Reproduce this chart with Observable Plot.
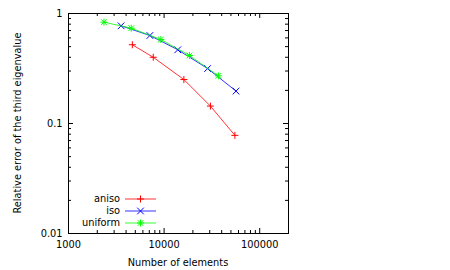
<!DOCTYPE html>
<html><head><meta charset="utf-8">
<script src="https://cdn.jsdelivr.net/npm/d3@7"></script>
<script src="https://cdn.jsdelivr.net/npm/@observablehq/plot@0.6"></script>
<style>body{margin:0;background:#fff;} svg{font-family:"DejaVu Sans",sans-serif;}</style>
</head><body><div id="chart"></div>
<script>
const seriesNames = ["aniso", "iso", "uniform"];
const seriesColors = ["#ff0000", "#0000ff", "#00ff00"];
const seriesSymbols = ["plus", "times", "asterisk"];
const anisoX = [4650, 7700, 16100, 30500, 55000];
const anisoY = [0.52, 0.40, 0.251, 0.144, 0.078];
const isoX = [3550, 7100, 13900, 28500, 56500];
const isoY = [0.773, 0.631, 0.468, 0.316, 0.197];
const uniformX = [2350, 4530, 9250, 18400, 37000];
const uniformY = [0.834, 0.735, 0.58, 0.415, 0.271];
const xMajor = [1000, 10000, 100000];
const yMajor = [0.01, 0.1, 1];
const xMinor = [2000,3000,4000,5000,6000,7000,8000,9000,20000,30000,40000,50000,60000,70000,80000,90000,200000];
const yMinor = [0.02,0.03,0.04,0.05,0.06,0.07,0.08,0.09,0.2,0.3,0.4,0.5,0.6,0.7,0.8,0.9];
const xLabel = "Number of elements";
const yLabel = "Relative error of the third eigenvalue";

const xs = [anisoX, isoX, uniformX];
const ys = [anisoY, isoY, uniformY];
const data = seriesNames.flatMap((s, i) => xs[i].map((x, j) => ({series: s, x, y: ys[i][j]})));

const W = 450, H = 270, mL = 68, mR = 162, mT = 13, mB = 37;
const fw = W - mL - mR, fh = H - mT - mB;
const maj = 5, mnr = 3;
const FS = 9.8;

// gnuplot-like stroke symbols
const hl = 3.5;
const symPlus = {draw(c) { c.moveTo(-hl, 0); c.lineTo(hl, 0); c.moveTo(0, -hl); c.lineTo(0, hl); }};
const symTimes = {draw(c) { const d = hl * 0.95; c.moveTo(-d, -d); c.lineTo(d, d); c.moveTo(-d, d); c.lineTo(d, -d); }};
const symAst = {draw(c) { const d = hl * 0.8; c.moveTo(-hl, 0); c.lineTo(hl, 0); c.moveTo(0, -hl); c.lineTo(0, hl);
  c.moveTo(-d, -d); c.lineTo(d, d); c.moveTo(-d, d); c.lineTo(d, -d); }};
const symMap = {plus: symPlus, times: symTimes, asterisk: symAst};

const marks = [
  Plot.frame({stroke: "#000", strokeWidth: 1}),
  Plot.tickX(xMajor, {x: d => d, insetTop: fh - maj, stroke: "#000"}),
  Plot.tickX(xMajor, {x: d => d, insetBottom: fh - maj, stroke: "#000"}),
  Plot.tickX(xMinor, {x: d => d, insetTop: fh - mnr, stroke: "#000"}),
  Plot.tickX(xMinor, {x: d => d, insetBottom: fh - mnr, stroke: "#000"}),
  Plot.tickY(yMajor, {y: d => d, insetRight: fw - maj, stroke: "#000"}),
  Plot.tickY(yMajor, {y: d => d, insetLeft: fw - maj, stroke: "#000"}),
  Plot.tickY(yMinor, {y: d => d, insetRight: fw - mnr, stroke: "#000"}),
  Plot.tickY(yMinor, {y: d => d, insetLeft: fw - mnr, stroke: "#000"}),
  Plot.axisX({ticks: xMajor, tickSize: 0, tickPadding: 8, tickFormat: d => String(d), fontSize: FS, label: null, fill: "#000"}),
  Plot.axisY({ticks: yMajor, tickSize: 0, tickPadding: 6, tickFormat: d => String(d), fontSize: FS, label: null, fill: "#000"}),
];
seriesNames.forEach((s, i) => {
  const d = data.filter(r => r.series === s);
  marks.push(Plot.line(d, {x: "x", y: "y", stroke: seriesColors[i], strokeWidth: 1, strokeOpacity: 0.8}));
  marks.push(Plot.dot(d, {x: "x", y: "y", stroke: seriesColors[i], symbol: symMap[seriesSymbols[i]], r: 4, strokeWidth: 1}));
});

const plot = Plot.plot({
  width: W, height: H,
  marginLeft: mL, marginRight: mR, marginTop: mT, marginBottom: mB,
  style: {fontFamily: "DejaVu Sans", fontSize: FS + "px", background: "#fff"},
  x: {type: "log", domain: [1000, 200000]},
  y: {type: "log", domain: [0.01, 1]},
  marks
});

const svg = d3.select(plot);
svg.append("text").attr("x", mL + fw / 2).attr("y", H - 4).attr("text-anchor", "middle")
  .attr("font-size", FS).attr("fill", "#000").text(xLabel);
svg.append("text").attr("transform", `translate(18,${mT + fh / 2}) rotate(-90)`).attr("text-anchor", "middle")
  .attr("dy", "0.35em").attr("font-size", FS).attr("fill", "#000").text(yLabel);

const lg = svg.append("g");
seriesNames.forEach((s, i) => {
  const cy = 199 + i * 12;
  lg.append("text").attr("x", 120).attr("y", cy).attr("dy", "0.35em").attr("text-anchor", "end")
    .attr("font-size", FS).attr("fill", "#000").text(s);
  lg.append("line").attr("x1", 125).attr("x2", 156).attr("y1", cy).attr("y2", cy)
    .attr("stroke", seriesColors[i]).attr("stroke-width", 1).attr("stroke-opacity", 0.8);
  const p = d3.path(); symMap[seriesSymbols[i]].draw(p);
  lg.append("path").attr("transform", `translate(140.5,${cy})`).attr("d", p.toString())
    .attr("fill", "none").attr("stroke", seriesColors[i]).attr("stroke-width", 1);
});

document.getElementById("chart").appendChild(plot);
</script></body></html>
